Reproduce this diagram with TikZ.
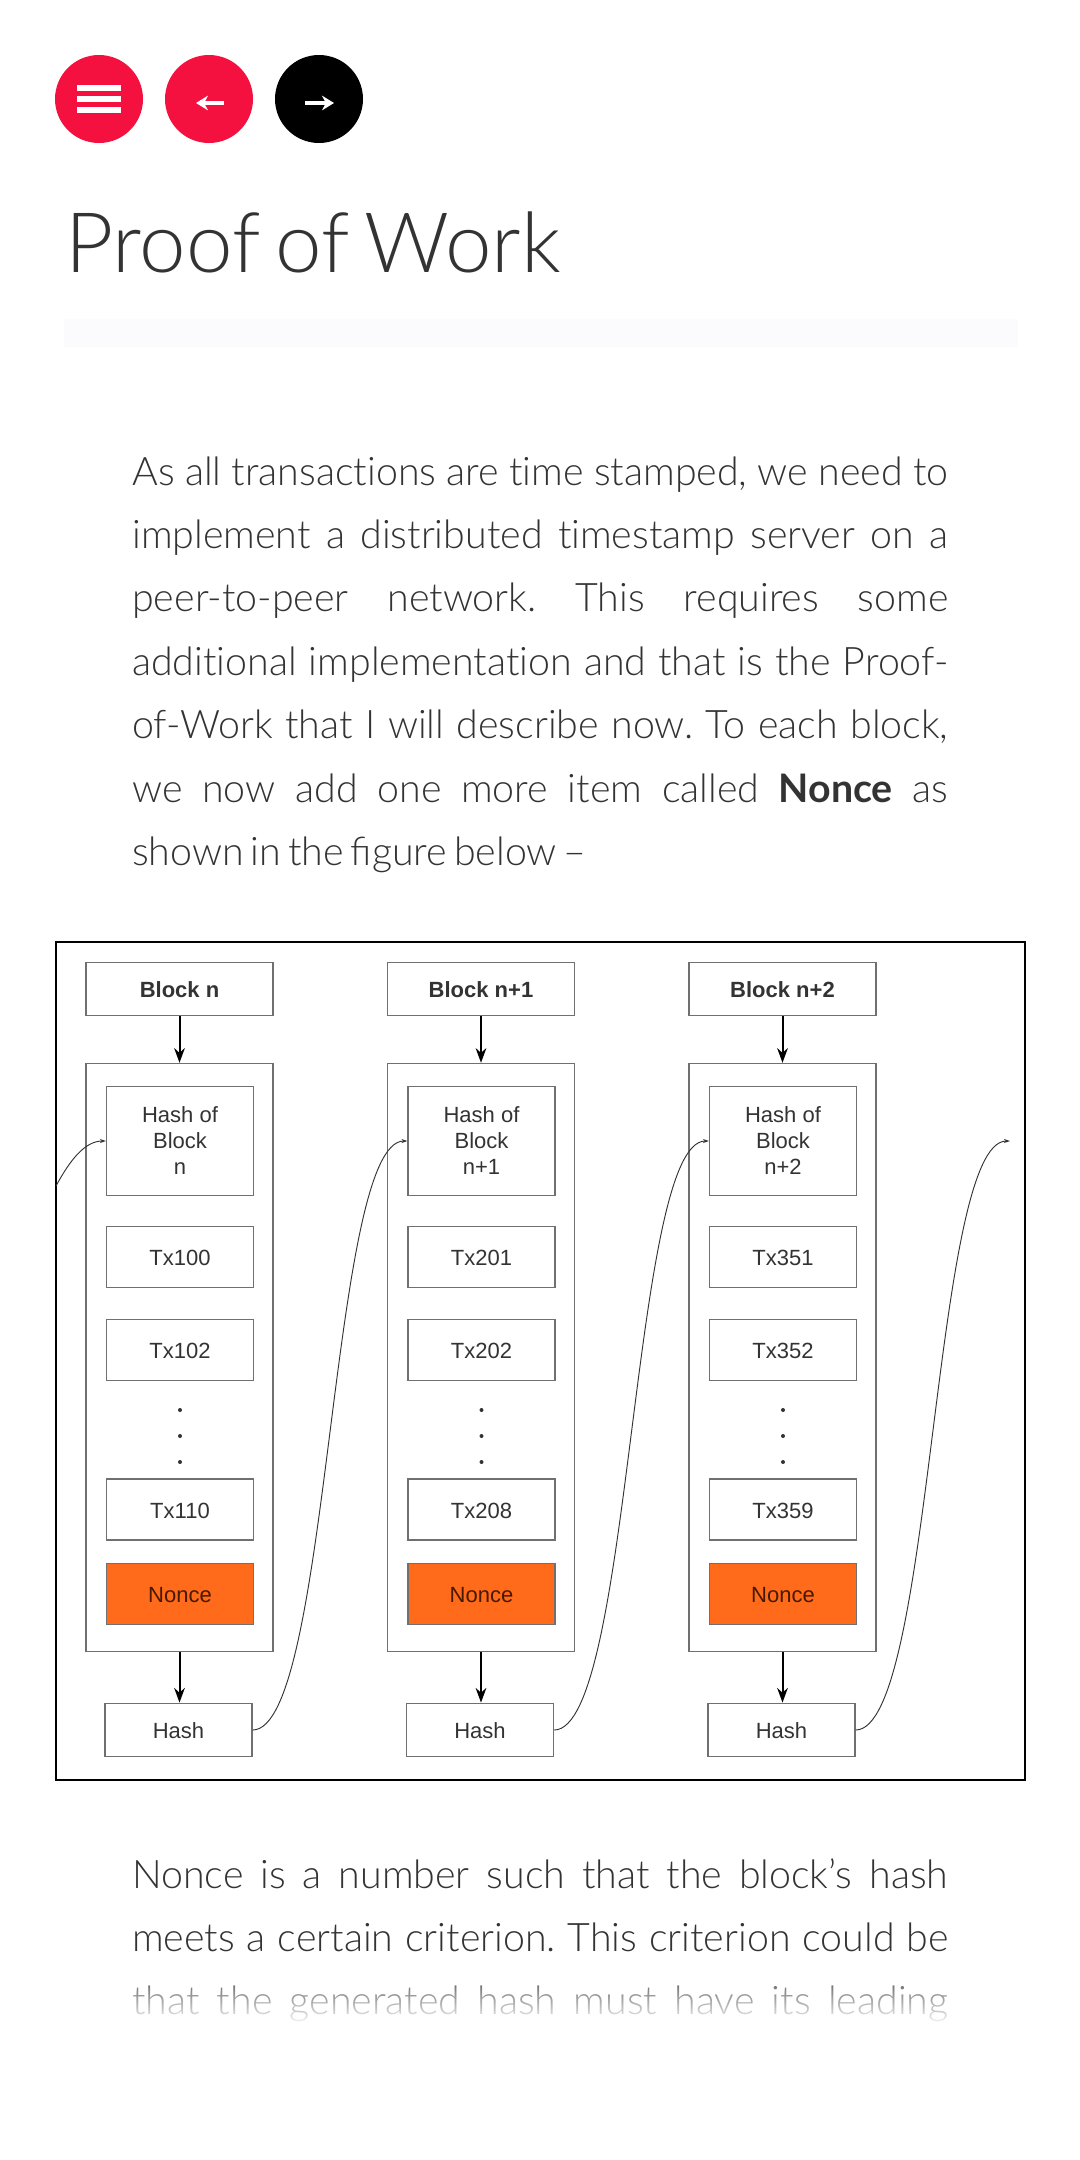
\documentclass[tikz,border=0pt]{standalone}
\usepackage{fontspec}
\setmainfont{Lato}[UprightFont=* Light,BoldFont=* Bold,WordSpace=0.65]
\newfontfamily\arialfont{Liberation Sans}
\usetikzlibrary{arrows.meta,fadings}
\definecolor{btnred}{HTML}{F5113F}
\definecolor{ink}{HTML}{333333}
\definecolor{edge}{HTML}{707070}
\definecolor{noncefill}{HTML}{FF6B1A}
\definecolor{barfill}{HTML}{FBFAFC}
\tikzfading[name=fadedown,top color=transparent!100,bottom color=transparent!0]
\newlength{\lw}\setlength{\lw}{612pt}
\newcommand{\jline}[1]{\makebox[\lw][s]{#1}}
\newcommand{\nl}{t\kern0pt i}
\frenchspacing
\tikzset{
  btn/.style={circle,minimum size=66pt,inner sep=0pt,fill=#1},
  barline/.style={line width=4.2pt,white},
  backarrow/.style={line width=3pt,white,-{Stealth[length=9pt,width=11pt]}},
  titletext/.style={anchor=base west,inner sep=0pt,text=ink,font=\fontsize{62.6}{62}\selectfont},
  bodytext/.style={anchor=base west,inner sep=0pt,text=ink,font=\fontsize{29.5}{31}\selectfont},
  boxb/.style={draw=edge,line width=1.1pt,fill=white,inner sep=0pt,align=center,text=ink,
     font=\arialfont\fontsize{16.5}{19.5}\selectfont},
  oneline/.style={text height=13.4pt,text depth=0pt},
  headbox/.style={boxb,oneline,minimum width=140pt,minimum height=40pt,font=\arialfont\bfseries\fontsize{16.5}{19.5}\selectfont},
  outerbox/.style={boxb,minimum width=140pt,minimum height=441pt},
  hofbox/.style={boxb,minimum width=110pt,minimum height=82pt},
  txbox/.style={boxb,oneline,minimum width=110pt,minimum height=46pt},
  noncebox/.style={txbox,fill=noncefill,text={rgb,255:red,70;green,25;blue,0}},
  hashbox/.style={boxb,oneline,minimum width=110pt,minimum height=40pt},
  dotmark/.style={circle,fill=ink,inner sep=0pt,minimum size=3pt},
  flow/.style={line width=1.5pt,black,-{Stealth[length=11pt,width=8pt]}},
  link/.style={line width=.7pt,draw=ink,-{Stealth[length=4.5pt,width=3pt]}},
}
\begin{document}
\begin{tikzpicture}[x=0.75pt,y=-0.75pt]
\path[use as bounding box,fill=white] (0,0) rectangle (1080,2160);
% buttons
\node[btn=btnred] (menu) at (99,99) {};
\node[btn=btnred] (prev) at (209,99) {};
\node[btn=black] (next) at (319,99) {};
\foreach \yy in {88,99,110}{\draw[barline] (77,\yy) -- (121,\yy);}
\coordinate (pa) at (224,103); \coordinate (pb) at (196,103);
\coordinate (na) at (305,103); \coordinate (nb) at (334,103);
\draw[backarrow] (pa) -- (pb);
\draw[backarrow] (na) -- (nb);
% title
\node[titletext] (title) at (65,272) {Proof of Work};
\fill[barfill] (64,319) rectangle (1018,347);
% paragraph
\node[bodytext] (l1) at (132,485) {\jline{As all transac\nl ons are \nl me stamped, we need to}};
\node[bodytext] (l2) at (132,548.4) {\jline{implement a distributed \nl mestamp server on a}};
\node[bodytext] (l3) at (132,611.8) {\jline{peer-to-peer network. This requires some}};
\node[bodytext] (l4) at (132,675.2) {\jline{addi\nl onal implementa\nl on and that is the Proof-}};
\node[bodytext] (l5) at (132,738.6) {\jline{of-Work that I will describe now. To each block,}};
\node[bodytext] (l6) at (132,802) {\jline{we now add one more item called \textbf{Nonce} as}};
\node[bodytext] (l7) at (132,865.4) {shown in the figure below --};
% figure
\node[draw=black,line width=1.5pt,fill=white,minimum width=727pt,minimum height=628.5pt,inner sep=0pt] (frame) at (540.5,1361) {};
\coordinate (fl) at (56,1186);
\coordinate (fe) at (1010,1141);
\foreach \c/\dx/\bl/\hl/\ta/\tb/\tc in {
  a/0/n/n/100/102/110,
  b/301.5/n+1/n+1/201/202/208,
  c/603/n+2/n+2/351/352/359}{
  \node[headbox] (\c head) at (179.5+\dx,989) {Block \bl};
  \node[outerbox] (\c outer) at (179.5+\dx,1357.5) {};
  \node[hofbox] (\c hof) at (180+\dx,1141) {Hash of\\Block\\\hl};
  \node[txbox] (\c t1) at (180+\dx,1257) {Tx\ta};
  \node[txbox] (\c t2) at (180+\dx,1350) {Tx\tb};
  \node[dotmark] (\c d1) at (180+\dx,1410) {};
  \node[dotmark] (\c d2) at (180+\dx,1436) {};
  \node[dotmark] (\c d3) at (180+\dx,1462) {};
  \node[txbox] (\c t3) at (180+\dx,1509.5) {Tx\tc};
  \node[noncebox] (\c nonce) at (180+\dx,1594) {Nonce};
  \node[hashbox] (\c hash) at (178.5+\dx,1730) {Hash};
  \draw[flow] (\c head.south) -- (\c outer.north);
  \draw[flow] (\c outer.south) -- (\c outer.south |- \c hash.north);
}
\draw[link] (fl) .. controls (70,1160) and (85,1141) .. (ahof.west);
\draw[link] (ahash.east) .. controls +(78,0) and +(-78,0) .. (bhof.west);
\draw[link] (bhash.east) .. controls +(78,0) and +(-78,0) .. (chof.west);
\draw[link] (chash.east) .. controls +(78,0) and +(-78,0) .. (fe);
% paragraph below
\node[bodytext] (m1) at (132,1888) {\jline{Nonce is a number such that the block’s hash}};
\node[bodytext] (m2) at (132,1951.4) {\jline{meets a certain criterion. This criterion could be}};
\node[bodytext] (m3) at (132,2014.8) {\jline{that the generated hash must have its leading}};
\fill[white,path fading=fadedown] (120,1965) rectangle (960,2026);
\end{tikzpicture}
\end{document}
